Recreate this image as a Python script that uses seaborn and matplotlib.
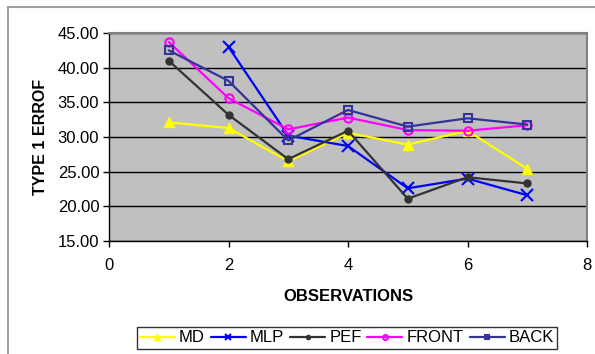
import numpy as np
import pandas as pd
import seaborn as sns
import matplotlib.pyplot as plt
from matplotlib.patches import Rectangle

# -----------------------------
# Data
# -----------------------------
observations = [1, 2, 3, 4, 5, 6, 7]
md = [32.1, 31.3, 26.5, 30.6, 28.9, 30.9, 25.4]
mlp = [np.nan, 43.0, 30.2, 28.7, 22.6, 24.0, 21.6]
pef = [41.0, 33.2, 26.8, 30.9, 21.1, 24.2, 23.3]
front = [43.7, 35.6, 31.1, 32.8, 31.0, 30.9, 31.7]
back = [42.5, 38.1, 29.5, 33.9, 31.5, 32.7, 31.8]

series_names = ["MD", "MLP", "PEF", "FRONT", "BACK"]
series_values = [md, mlp, pef, front, back]

df = pd.DataFrame({"observations": observations})
for name, vals in zip(series_names, series_values):
    df[name] = vals

# -----------------------------
# Styles
# -----------------------------
styles = {
    "MD":    dict(color="#FFFF00", marker="^", ms=7, mfc="#FFFF00", mew=1),
    "MLP":   dict(color="#0000FF", marker="x", ms=8, mfc="#0000FF", mew=1.5),
    "PEF":   dict(color="#333333", marker="o", ms=5, mfc="#333333", mew=1),
    "FRONT": dict(color="#FF00FF", marker="o", ms=6, mfc="none", mew=1.5),
    "BACK":  dict(color="#333399", marker="s", ms=6, mfc="none", mew=1.5),
}

sns.set_style("white")
plt.rcParams["font.family"] = ["Liberation Sans", "DejaVu Sans"]

fig = plt.figure(figsize=(5.95, 3.54), dpi=100)
ax = fig.add_axes([109 / 595, 1 - 241 / 354, (587 - 109) / 595, (241 - 33) / 354])

for name in series_names:
    st = styles[name]
    sns.lineplot(
        data=df, x="observations", y=name, ax=ax, label=name,
        color=st["color"], linewidth=1.6, marker=st["marker"],
        markersize=st["ms"], markerfacecolor=st["mfc"],
        markeredgecolor=st["color"], markeredgewidth=st["mew"],
    )

ax.set_facecolor("#C0C0C0")
ax.set_xlim(0, 8)
ax.set_ylim(15, 45)
ax.set_xticks([0, 2, 4, 6, 8])
ax.set_yticks([15, 20, 25, 30, 35, 40, 45])
ax.set_yticklabels([f"{v:.2f}" for v in ax.get_yticks()])
ax.tick_params(axis="both", direction="out", length=4, width=1, colors="black",
               labelcolor="black", labelsize=12, left=True, bottom=True)
ax.tick_params(axis="x", pad=8)
ax.tick_params(axis="y", pad=3)
ax.yaxis.grid(True, color="black", linewidth=1)
ax.set_axisbelow(True)
for side in ["top", "right"]:
    ax.spines[side].set_color("#808080")
    ax.spines[side].set_linewidth(1.5)
for side in ["left", "bottom"]:
    ax.spines[side].set_color("black")
    ax.spines[side].set_linewidth(1)

ax.set_xlabel("OBSERVATIONS", fontsize=12, fontweight="heavy", color="black", labelpad=12)
ax.set_ylabel("TYPE 1 ERROF", fontsize=11.5, fontweight="heavy", color="black", labelpad=7)

leg = ax.legend(loc="center", bbox_to_anchor=(347 / 595, 1 - 338 / 354),
                bbox_transform=fig.transFigure, ncol=5, frameon=True,
                fontsize=12, handlelength=2.1, handletextpad=0.25, markerscale=0.6,
                columnspacing=0.35, borderpad=0.2, fancybox=False)
leg.get_frame().set_edgecolor("black")
leg.get_frame().set_linewidth(1)
for t in leg.get_texts():
    t.set_color("black")

# outer chart border
fig.patches.append(Rectangle((8 / 595, -0.05), 1.2, 1 - 7 / 354 + 0.05,
                             transform=fig.transFigure, fill=False,
                             edgecolor="#A0A0A0", linewidth=1.5))

fig.savefig("out.png", dpi=100)
